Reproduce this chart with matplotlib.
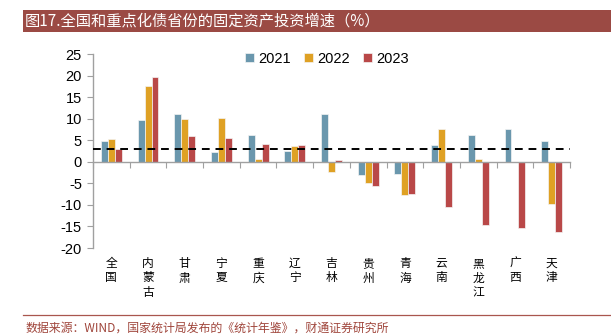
import matplotlib
matplotlib.use("Agg")
import matplotlib.pyplot as plt
import numpy as np
from matplotlib.transforms import blended_transform_factory
from matplotlib.patches import Rectangle

plt.rcParams['font.family'] = ['Liberation Sans', 'Noto Sans CJK SC', 'DejaVu Sans']

categories = ["全国", "内蒙古", "甘肃", "宁夏", "重庆", "辽宁", "吉林", "贵州", "青海", "云南", "黑龙江", "广西", "天津"]
series_names = ["2021", "2022", "2023"]
v2021 = [4.9, 9.8, 11.0, 2.2, 6.1, 2.6, 11.0, -3.1, -2.9, 4.0, 6.3, 7.6, 4.8]
v2022 = [5.2, 17.5, 10.0, 10.1, 0.7, 3.6, -2.4, -5.0, -7.6, 7.5, 0.6, 0.0, -9.8]
v2023 = [3.0, 19.7, 5.9, 5.5, 4.2, 4.0, 0.3, -5.6, -7.5, -10.4, -14.7, -15.4, -16.3]
ref_line = 3.0
yticks = [-20, -15, -10, -5, 0, 5, 10, 15, 20, 25]
title = "图17.全国和重点化债省份的固定资产投资增速（%）"
source = "数据来源：WIND，国家统计局发布的《统计年鉴》，财通证券研究所"

colors = ["#6A97AD", "#DFA124", "#B94848"]

W, H = 611, 335
fig = plt.figure(figsize=(W / 100, H / 100), dpi=100)

def fx(px):
    return px / W

def fy(py):
    return 1 - py / H

# Title banner
fig.patches.append(Rectangle((fx(23), fy(32)), fx(611) - fx(23), fy(10) - fy(32),
                             transform=fig.transFigure, facecolor="#9B4A44", edgecolor="none", zorder=0))
fig.text(fx(25), fy(21), title, color="white", fontsize=11,
         family=['Noto Sans CJK SC', 'DejaVu Sans'], va="center", ha="left")

# bottom line and source
fig.add_artist(plt.Line2D([fx(23), fx(611)], [fy(315), fy(315)], transform=fig.transFigure,
                          color="#A9564E", lw=0.9))
fig.text(fx(25), fy(328), source, color="#A0463C", fontsize=8.6,
         family=['Noto Sans CJK SC', 'DejaVu Sans'], va="center", ha="left")

ax = fig.add_axes([fx(93), fy(248), fx(570) - fx(93), fy(54) - fy(248)])
x = np.arange(len(categories))
bw = 0.19
for i, (vals, c, n) in enumerate(zip([v2021, v2022, v2023], colors, series_names)):
    ax.bar(x + (i - 1) * bw, vals, width=bw, color=c, edgecolor="#F4F4F4", linewidth=0.5, label=n, zorder=2)

ax.axhline(ref_line, color="black", lw=1.4, ls=(0, (4, 3)), zorder=3)

ax.set_xlim(-0.5, len(categories) - 0.5)
ax.set_ylim(-20, 25)
ax.set_yticks(yticks)
ax.set_yticklabels([str(t) for t in yticks], fontsize=10.5)
ax.spines['top'].set_visible(False)
ax.spines['right'].set_visible(False)
ax.spines['left'].set_color("#A0A0A0")
ax.spines['bottom'].set_color("#A0A0A0")
ax.spines['bottom'].set_position(('data', 0))
ax.spines['left'].set_linewidth(1.0)
ax.spines['bottom'].set_linewidth(1.0)
ax.set_xticks(np.arange(-0.5, len(categories), 1.0))
ax.set_xticklabels([])
ax.tick_params(axis='x', direction='out', length=4, color="#A0A0A0")
ax.tick_params(axis='y', direction='out', length=4, color="#A0A0A0", pad=4)
ax.patch.set_visible(False)

trans = blended_transform_factory(ax.transData, fig.transFigure)
for xi, cat in zip(x, categories):
    ax.text(xi, fy(257), "\n".join(cat), transform=trans, ha="center", va="top",
            fontsize=8.5, linespacing=1.15, family=['Noto Sans CJK SC', 'DejaVu Sans'])

leg = fig.legend(loc="center left", bbox_to_anchor=(fx(245), fy(59)), ncol=3, frameon=False,
                 fontsize=10.5, handlelength=0.6, handleheight=0.6, handletextpad=0.3,
                 columnspacing=0.9, borderaxespad=0, borderpad=0)

fig.savefig("out.png", dpi=100)
